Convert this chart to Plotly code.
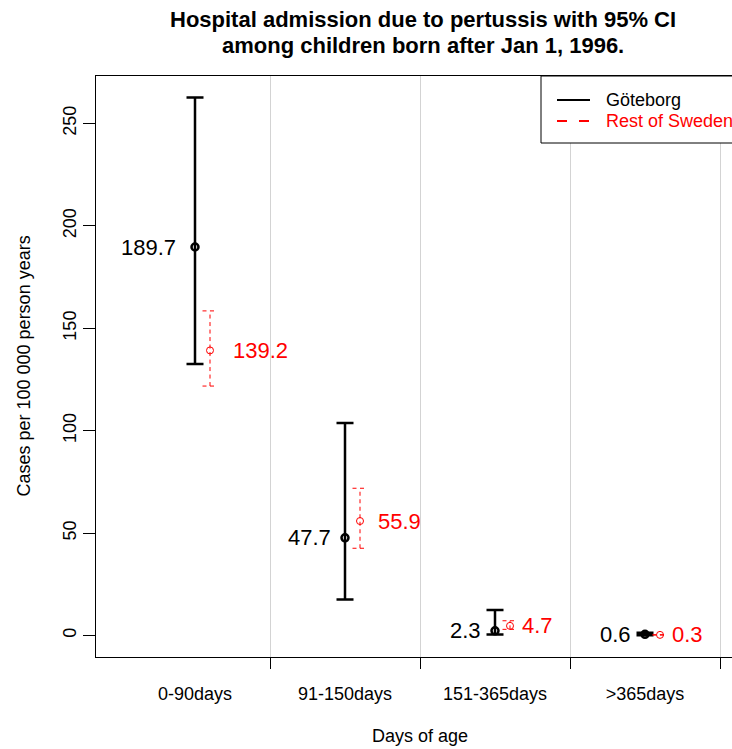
import plotly.graph_objects as go

# ---- data ----
categories = ["0-90days", "91-150days", "151-365days", ">365days"]
gbg_rate = [189.7, 47.7, 2.3, 0.6]
gbg_lo = [132.6, 17.6, 0.5, 0.1]
gbg_hi = [262.7, 103.8, 12.4, 1.3]
rest_rate = [139.2, 55.9, 4.7, 0.3]
rest_lo = [121.8, 42.6, 3.0, 0.2]
rest_hi = [158.5, 71.9, 7.2, 0.4]
y_ticks = [0, 50, 100, 150, 200, 250]
series_names = ["Göteborg", "Rest of Sweden"]

FONT = "Liberation Sans, Arial, sans-serif"
RED = "#FF0000"
W, H = 732, 749
ML, MR, MT, MB = 96, 0, 76, 92
PW = W - ML - MR
PH = H - MT - MB

xg = list(range(len(categories)))
xr = [i + 0.1 for i in xg]

fig = go.Figure()

# Göteborg: solid error bars + circles
fig.add_trace(go.Scatter(
    x=xg, y=gbg_rate, mode="markers",
    marker=dict(symbol="circle-open", size=7, color="black", line=dict(width=2.5, color="black")),
    error_y=dict(type="data", symmetric=False,
                 array=[h - r for h, r in zip(gbg_hi, gbg_rate)],
                 arrayminus=[r - l for r, l in zip(gbg_rate, gbg_lo)],
                 color="black", thickness=2.5, width=8.5),
    showlegend=False, hoverinfo="skip"))

# Rest of Sweden: dashed error bars drawn as lines
cap = 0.05
ex, ey = [], []
for x, lo, hi in zip(xr, rest_lo, rest_hi):
    ex += [x, x, None, x - cap, x + cap, None, x - cap, x + cap, None]
    ey += [lo, hi, None, hi, hi, None, lo, lo, None]
fig.add_trace(go.Scatter(x=ex, y=ey, mode="lines",
                         line=dict(color=RED, width=1, dash="4px,3.5px"),
                         showlegend=False, hoverinfo="skip"))
fig.add_trace(go.Scatter(
    x=xr, y=rest_rate, mode="markers",
    marker=dict(symbol="circle-open", size=7, color=RED, line=dict(width=1, color=RED)),
    showlegend=False, hoverinfo="skip"))

annotations = []
for x, v in zip(xg, gbg_rate):
    s = f"{v:.1f}"
    off = max(12, 12 + 5 * (len(s) - 4))
    annotations.append(dict(x=x, y=v, xref="x", yref="y", text=s, showarrow=False,
                            xanchor="right", yanchor="middle", xshift=-off,
                            font=dict(family=FONT, size=22, color="black")))
for x, v in zip(xr, rest_rate):
    s = f"{v:.1f}"
    off = 10 + 5.5 * (len(s) - 3)
    annotations.append(dict(x=x, y=v, xref="x", yref="y", text=s, showarrow=False,
                            xanchor="left", yanchor="middle", xshift=off,
                            font=dict(family=FONT, size=22, color=RED)))

def px_x(p):
    return (p - ML) / PW

def px_y(p):
    return (H - MB - p) / PH

# title
annotations.append(dict(x=px_x(423), y=px_y(20), xref="paper", yref="paper",
                        text="<b>Hospital admission due to pertussis with 95% CI</b>",
                        showarrow=False, xanchor="center", yanchor="middle",
                        font=dict(family=FONT, size=22, color="black")))
annotations.append(dict(x=px_x(423), y=px_y(46), xref="paper", yref="paper",
                        text="<b>among children born after Jan 1, 1996.</b>",
                        showarrow=False, xanchor="center", yanchor="middle",
                        font=dict(family=FONT, size=22, color="black")))
# axis titles
annotations.append(dict(x=px_x(420), y=px_y(736), xref="paper", yref="paper",
                        text="Days of age", showarrow=False,
                        xanchor="center", yanchor="middle",
                        font=dict(family=FONT, size=18, color="black")))
annotations.append(dict(x=px_x(23), y=0.5, xref="paper", yref="paper",
                        text="Cases per 100 000 person years", showarrow=False, textangle=-90,
                        xanchor="center", yanchor="middle",
                        font=dict(family=FONT, size=18, color="black")))
# legend texts
annotations.append(dict(x=px_x(604), y=px_y(100), xref="paper", yref="paper",
                        text=series_names[0], showarrow=False, xanchor="left", yanchor="middle",
                        font=dict(family=FONT, size=18, color="black")))
annotations.append(dict(x=px_x(604), y=px_y(121), xref="paper", yref="paper",
                        text=series_names[1], showarrow=False, xanchor="left", yanchor="middle",
                        font=dict(family=FONT, size=18, color=RED)))

shapes = [
    dict(type="rect", xref="paper", yref="paper", x0=px_x(541), x1=1.2, y0=px_y(143), y1=1.0,
         line=dict(color="black", width=1), fillcolor="white", layer="above"),
    dict(type="line", xref="paper", yref="paper", x0=px_x(557), x1=px_x(590), y0=px_y(100), y1=px_y(100),
         line=dict(color="black", width=2)),
    dict(type="line", xref="paper", yref="paper", x0=px_x(557), x1=px_x(590), y0=px_y(121), y1=px_y(121),
         line=dict(color=RED, width=2, dash="10px,12px")),
]

fig.update_layout(
    width=W, height=H,
    margin=dict(l=ML, r=MR, t=MT, b=MB, pad=0),
    paper_bgcolor="white", plot_bgcolor="white",
    font=dict(family=FONT, size=18, color="black"),
    annotations=annotations, shapes=shapes,
    xaxis=dict(range=[-0.66, 3.58], tickmode="array", tickvals=xg, ticktext=categories,
               ticks="outside", ticklen=20, tickcolor="rgba(0,0,0,0)",
               showgrid=False, zeroline=False, showline=True, linecolor="black", linewidth=1,
               mirror=True, tickfont=dict(family=FONT, size=18, color="black"),
               minor=dict(tickmode="array", tickvals=[0.5, 1.5, 2.5, 3.5], ticks="outside",
                          ticklen=11, tickcolor="black", tickwidth=1,
                          showgrid=True, gridcolor="#D3D3D3", gridwidth=1)),
    yaxis=dict(range=[-10.5, 273.2], tickmode="array", tickvals=y_ticks,
               ticks="outside", ticklen=12, tickcolor="black", tickangle=-90,
               showgrid=False, zeroline=False, showline=True, linecolor="black", linewidth=1,
               tickfont=dict(family=FONT, size=18, color="black")),
)

fig.write_html("out.html")
